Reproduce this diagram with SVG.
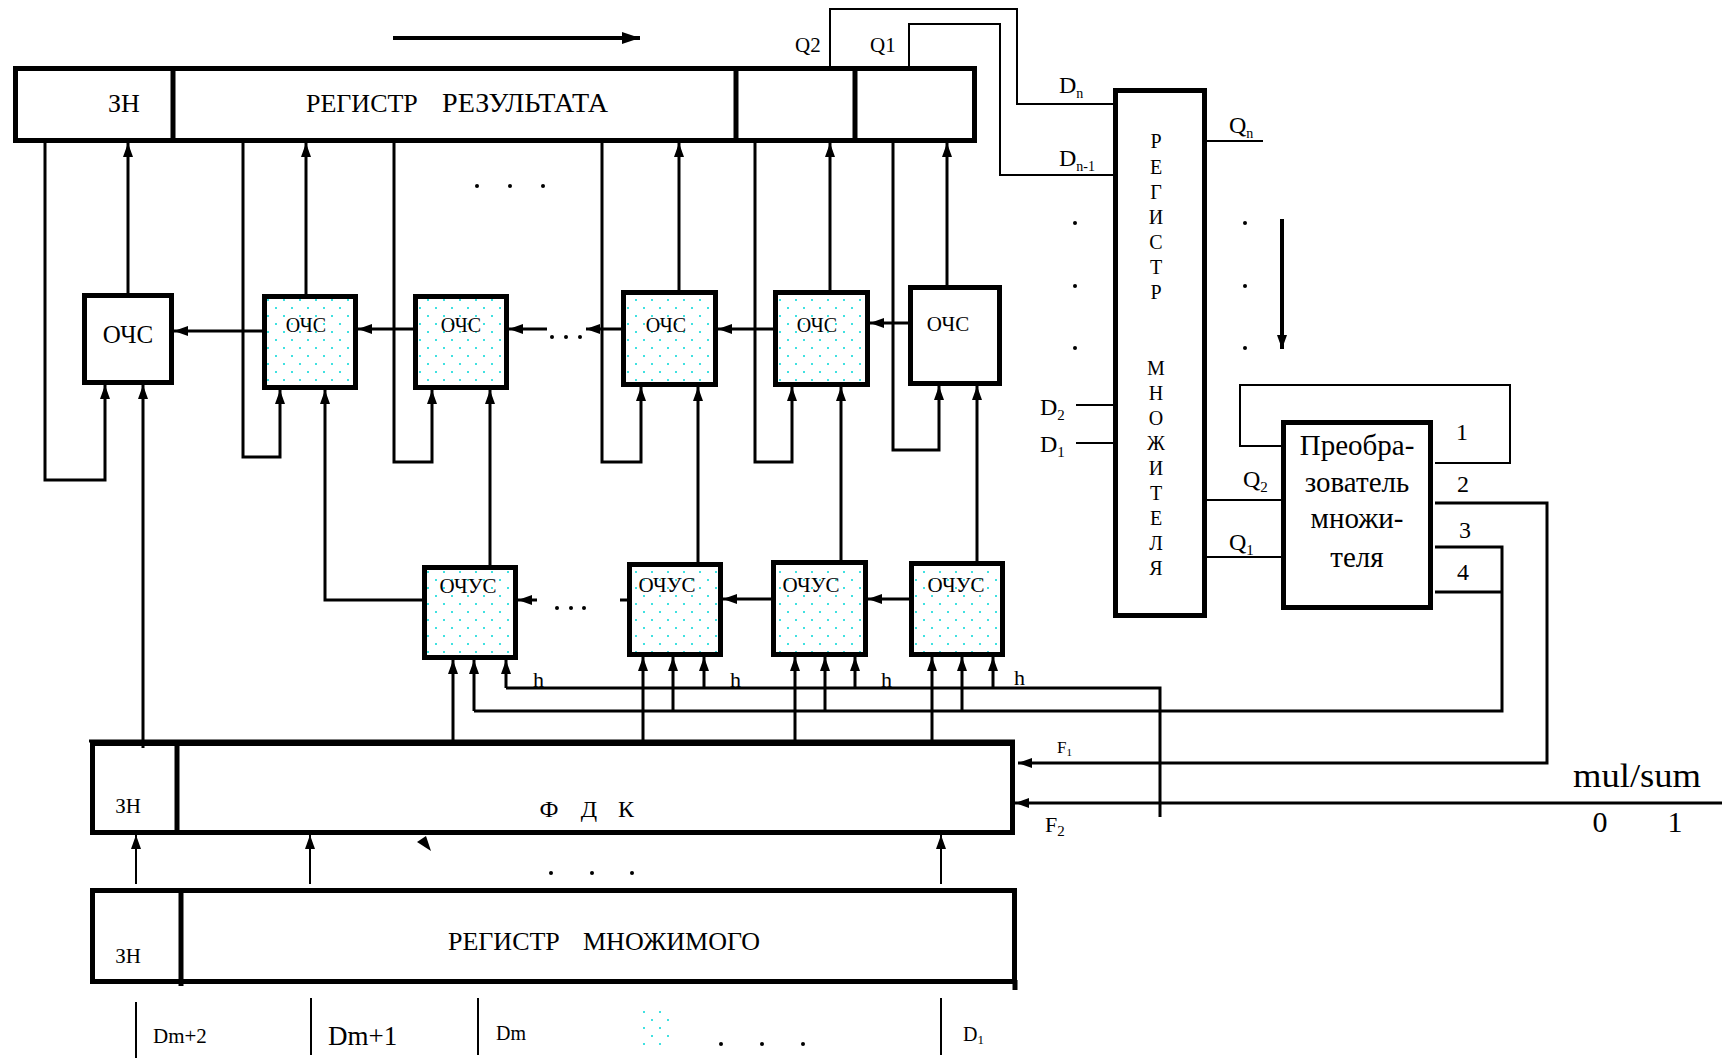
<svg xmlns="http://www.w3.org/2000/svg" width="1722" height="1060" viewBox="0 0 1722 1060">
<style>
text{font-family:"Liberation Serif","Times New Roman",serif;fill:#000}
.bx{fill:#fff;stroke:#000;stroke-width:5}
.dt{fill:url(#dots);stroke:#000;stroke-width:5}
.dv{stroke:#000;stroke-width:5}
.ln{fill:none;stroke:#000;stroke-width:3}
.tn{fill:none;stroke:#000;stroke-width:2}
.ar{marker-end:url(#ah)}
.mid{text-anchor:middle}
</style>
<defs>
<pattern id="dots" width="16" height="16" patternUnits="userSpaceOnUse">
<rect width="16" height="16" fill="#fff"/>
<circle cx="4" cy="4" r="1" fill="#00d8d8"/>
<circle cx="12" cy="12" r="1" fill="#00d8d8"/>
</pattern>
<marker id="ah" viewBox="0 0 14 10" refX="14" refY="5" markerWidth="14" markerHeight="10" markerUnits="userSpaceOnUse" orient="auto">
<path d="M0,0 L14,5 L0,10 z"/>
</marker>
<marker id="ahb" viewBox="0 0 18 12" refX="18" refY="6" markerWidth="18" markerHeight="12" markerUnits="userSpaceOnUse" orient="auto">
<path d="M0,0 L18,6 L0,12 z"/>
</marker>
</defs>
<rect width="1722" height="1060" fill="#fff"/>

<g id="reg-result">
<rect class="bx" x="15.5" y="68.5" width="959" height="72"/>
<line class="dv" x1="173" y1="68" x2="173" y2="141"/>
<line class="dv" x1="736" y1="66" x2="736" y2="143"/>
<line class="dv" x1="855" y1="70" x2="855" y2="138"/>
<text x="124" y="112" font-size="26" class="mid">ЗН</text>
<text x="306" y="112" font-size="26">РЕГИСТР</text>
<text x="442" y="112" font-size="27" textLength="166" lengthAdjust="spacingAndGlyphs">РЕЗУЛЬТАТА</text>
</g>

<g id="ochs1"><rect class="bx" x="84.5" y="295.5" width="87" height="87"/><text x="128" y="343" font-size="25" class="mid">ОЧС</text></g>
<g id="ochs2"><rect class="dt" x="264.5" y="296.5" width="91" height="91"/><text x="306" y="332" font-size="20" class="mid">ОЧС</text></g>
<g id="ochs3"><rect class="dt" x="415.5" y="296.5" width="91" height="91"/><text x="461" y="332" font-size="20" class="mid">ОЧС</text></g>
<g id="ochs4"><rect class="dt" x="623.5" y="292.5" width="92" height="92"/><text x="666" y="332" font-size="20" class="mid">ОЧС</text></g>
<g id="ochs5"><rect class="dt" x="775.5" y="292.5" width="92" height="92"/><text x="817" y="332" font-size="20" class="mid">ОЧС</text></g>
<g id="ochs6"><rect class="bx" x="910.5" y="287.5" width="89" height="96"/><text x="948" y="331" font-size="21" class="mid">ОЧС</text></g>

<g id="ochus1"><rect class="dt" x="424.5" y="567.5" width="91" height="90"/><text x="468" y="593" font-size="21" class="mid">ОЧУС</text></g>
<g id="ochus2"><rect class="dt" x="629.5" y="564.5" width="91" height="90"/><text x="667" y="592" font-size="21" class="mid">ОЧУС</text></g>
<g id="ochus3"><rect class="dt" x="773.5" y="562.5" width="92" height="92"/><text x="811" y="592" font-size="21" class="mid">ОЧУС</text></g>
<g id="ochus4"><rect class="dt" x="911.5" y="563.5" width="91" height="91"/><text x="956" y="592" font-size="21" class="mid">ОЧУС</text></g>

<g id="fdk">
<rect class="bx" x="92.5" y="743.5" width="920" height="89"/>
<line class="dv" x1="177" y1="741" x2="177" y2="835"/>
<text x="128" y="813" font-size="21" class="mid">ЗН</text>
<text x="549" y="817" font-size="24" class="mid">Ф</text>
<text x="589" y="817" font-size="24" class="mid">Д</text>
<text x="626" y="817" font-size="24" class="mid">К</text>
</g>

<g id="reg-multiplicand">
<rect class="bx" x="92.5" y="890.5" width="922" height="91"/>
<line class="dv" x1="181" y1="888" x2="181" y2="986"/>
<line class="dv" x1="1015" y1="980" x2="1015" y2="990"/>
<text x="128" y="963" font-size="21" class="mid">ЗН</text>
<text x="448" y="950" font-size="26">РЕГИСТР</text>
<text x="583" y="950" font-size="26">МНОЖИМОГО</text>
</g>

<g id="reg-multiplier">
<rect class="bx" x="1115.5" y="90.5" width="89" height="525"/>
<g font-size="20" class="mid">
<text x="1156" y="148">Р</text><text x="1156" y="174">Е</text><text x="1156" y="199">Г</text><text x="1156" y="224">И</text><text x="1156" y="249">С</text><text x="1156" y="274">Т</text><text x="1156" y="299">Р</text>
<text x="1156" y="375">М</text><text x="1156" y="400">Н</text><text x="1156" y="425">О</text><text x="1156" y="450">Ж</text><text x="1156" y="475">И</text><text x="1156" y="500">Т</text><text x="1156" y="525">Е</text><text x="1156" y="550">Л</text><text x="1156" y="575">Я</text>
</g>
</g>

<g id="converter">
<rect class="bx" x="1283.5" y="422.5" width="147" height="185"/>
<g font-size="29" class="mid">
<text x="1357" y="455">Преобра-</text>
<text x="1357" y="492">зователь</text>
<text x="1357" y="528">множи-</text>
<text x="1357" y="567">теля</text>
</g>
</g>

<g id="connectors">
<line x1="393" y1="38" x2="640" y2="38" stroke="#000" stroke-width="4" marker-end="url(#ahb)"/>
<path class="ln ar" d="M128,293 V143"/>
<path class="ln ar" d="M306,294 V143"/>
<path class="ln ar" d="M679,290 V143"/>
<path class="ln ar" d="M830,290 V143"/>
<path class="ln ar" d="M947,285 V143"/>
<path class="ln ar" d="M45,143 V480 H105 V385"/>
<path class="ln ar" d="M243,143 V457 H280 V390"/>
<path class="ln ar" d="M394,143 V462 H432 V390"/>
<path class="ln ar" d="M602,143 V462 H641 V387"/>
<path class="ln ar" d="M755,143 V462 H792 V387"/>
<path class="ln ar" d="M893,143 V450 H939 V386"/>
<path class="ln ar" d="M143,748 V385"/>
<path class="ln ar" d="M422,600 H325 V390"/>
<path class="ln ar" d="M490,565 V390"/>
<path class="ln ar" d="M698,562 V387"/>
<path class="ln ar" d="M841,560 V387"/>
<path class="ln ar" d="M977,561 V386"/>
<path class="ln ar" d="M262,331 H174"/>
<path class="ln ar" d="M413,329 H358"/>
<path class="ln ar" d="M547,329 H509"/>
<path class="ln ar" d="M621,329 H586"/>
<path class="ln ar" d="M773,329 H718"/>
<path class="ln ar" d="M908,323 H870"/>
<path class="ln ar" d="M537,600 H518"/>
<path class="ln" d="M620,600 H627"/>
<path class="ln ar" d="M771,599 H723"/>
<path class="ln ar" d="M909,599 H868"/>
<path class="ln" d="M89,741 H1015"/>
<path class="ln" d="M506,688 H1160 V817"/>
<path class="ln" d="M474,711 H1502 V547 H1435"/>
<path class="ln" d="M1435,592 H1502"/>
<path class="ln ar" d="M453,741 V660"/><path class="ln ar" d="M474,711 V660"/><path class="ln ar" d="M506,688 V660"/>
<path class="ln ar" d="M643,741 V657"/><path class="ln ar" d="M673,711 V657"/><path class="ln ar" d="M704,688 V657"/>
<path class="ln ar" d="M795,741 V657"/><path class="ln ar" d="M825,711 V657"/><path class="ln ar" d="M855,688 V657"/>
<path class="ln ar" d="M932,741 V657"/><path class="ln ar" d="M962,711 V657"/><path class="ln ar" d="M993,688 V657"/>
<path class="ln ar" d="M1435,503 H1547 V763 H1018"/>
<path class="ln ar" d="M1722,803 H1015"/>
<path class="tn" d="M1435,463 H1510 V385 H1240 V446 H1281"/>
<path class="tn" d="M1207,500 H1281"/>
<path class="tn" d="M1207,557 H1281"/>
<path class="tn" d="M1207,141 H1263"/>
<path class="tn" d="M1076,405 H1113"/>
<path class="tn" d="M1076,443 H1113"/>
<path class="tn" d="M830,66 V9 H1017 V104 H1113"/>
<path class="tn" d="M909,66 V24 H1000 V175 H1113"/>
<line x1="1282" y1="219" x2="1282" y2="349" stroke="#000" stroke-width="4" marker-end="url(#ah)"/>
<path class="tn ar" d="M136,884 V835"/>
<path class="tn ar" d="M310,884 V835"/>
<path class="tn ar" d="M941,884 V835"/>
<path class="tn" d="M136,1002 V1058"/>
<path class="tn" d="M311,998 V1055"/>
<path class="tn" d="M478,998 V1055"/>
<path class="tn" d="M941,998 V1055"/>
<polygon points="417,842 426,836 431,851"/>
</g>

<g id="dots-marks">
<circle cx="477" cy="186" r="2"/><circle cx="510" cy="186" r="2"/><circle cx="543" cy="186" r="2"/>
<circle cx="552" cy="337" r="2"/><circle cx="566" cy="337" r="2"/><circle cx="580" cy="337" r="2"/>
<circle cx="557" cy="608" r="2"/><circle cx="571" cy="608" r="2"/><circle cx="584" cy="608" r="2"/>
<circle cx="1075" cy="223" r="2"/><circle cx="1075" cy="286" r="2"/><circle cx="1075" cy="348" r="2"/>
<circle cx="1245" cy="223" r="2"/><circle cx="1245" cy="286" r="2"/><circle cx="1245" cy="348" r="2"/>
<circle cx="551" cy="873" r="2"/><circle cx="592" cy="873" r="2"/><circle cx="632" cy="873" r="2"/>
<circle cx="721" cy="1044" r="2"/><circle cx="762" cy="1044" r="2"/><circle cx="803" cy="1044" r="2"/>
<rect x="638" y="1010" width="34" height="37" fill="url(#dots)"/>
</g>

<g id="labels">
<text x="795" y="52" font-size="21">Q2</text>
<text x="870" y="52" font-size="21">Q1</text>
<text x="1059" y="93" font-size="24">D<tspan font-size="14" dy="5">n</tspan></text>
<text x="1059" y="166" font-size="24">D<tspan font-size="14" dy="5">n-1</tspan></text>
<text x="1229" y="133" font-size="24">Q<tspan font-size="14" dy="5">n</tspan></text>
<text x="1040" y="415" font-size="24">D<tspan font-size="15" dy="5">2</tspan></text>
<text x="1040" y="452" font-size="24">D<tspan font-size="15" dy="5">1</tspan></text>
<text x="1243" y="487" font-size="24">Q<tspan font-size="15" dy="5">2</tspan></text>
<text x="1229" y="550" font-size="24">Q<tspan font-size="15" dy="5">1</tspan></text>
<text x="1456" y="440" font-size="24">1</text>
<text x="1457" y="492" font-size="24">2</text>
<text x="1459" y="538" font-size="24">3</text>
<text x="1457" y="580" font-size="24">4</text>
<text x="533" y="687" font-size="22">h</text>
<text x="730" y="687" font-size="22">h</text>
<text x="881" y="687" font-size="22">h</text>
<text x="1014" y="685" font-size="22">h</text>
<text x="1057" y="753" font-size="17">F<tspan font-size="11" dy="3">1</tspan></text>
<text x="1045" y="832" font-size="22">F<tspan font-size="15" dy="4">2</tspan></text>
<text x="1573" y="787" font-size="33" textLength="128" lengthAdjust="spacingAndGlyphs">mul/sum</text>
<text x="1600" y="832" font-size="30" class="mid">0</text>
<text x="1675" y="832" font-size="30" class="mid">1</text>
<text x="153" y="1043" font-size="21">Dm+2</text>
<text x="328" y="1045" font-size="27">Dm+1</text>
<text x="496" y="1040" font-size="20">Dm</text>
<text x="963" y="1041" font-size="20">D<tspan font-size="13" dy="3">1</tspan></text>
</g>
</svg>
